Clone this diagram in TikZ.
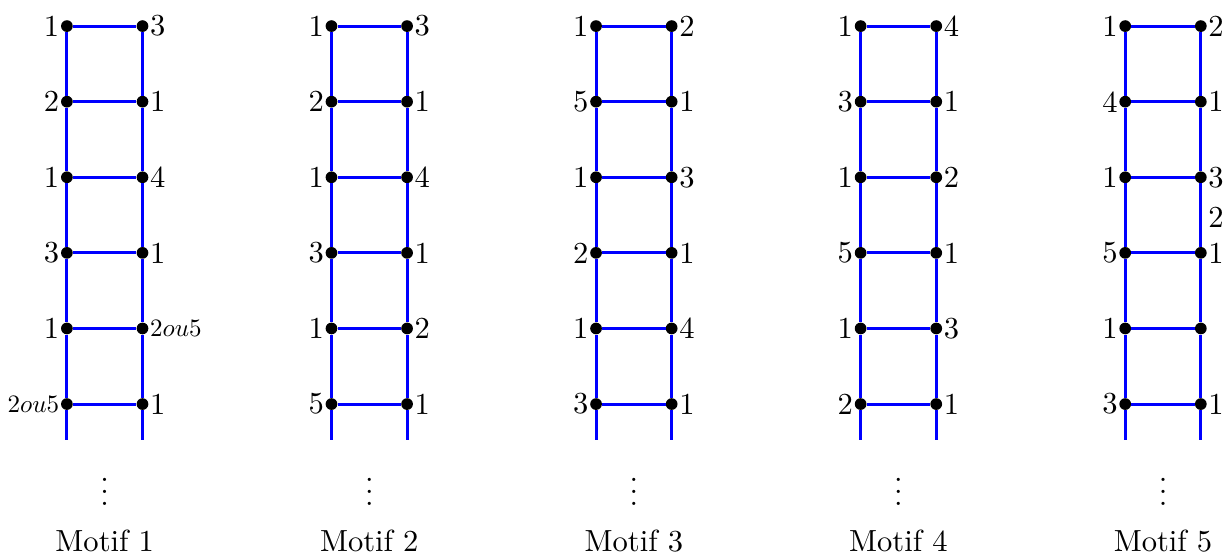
\documentclass[tikz,border=0pt]{standalone}
\usetikzlibrary{positioning}
\tikzset{
  dot/.style={circle,fill=black,inner sep=0pt,minimum size=0.31cm},
  rail/.style={blue,line width=2.3pt},
  lab/.style={inner sep=0.3pt,scale=2.3},
  title/.style={scale=2.3}
}
\newcommand{\sm}[1]{\scalebox{0.82}{#1}}
\newcommand{\ladder}[3]{% #1 index, #2 x, #3 rows r/left/right
  \foreach \r/\a/\b in {#3} {
    \node[dot,label={[lab,anchor=east,name=L#1\r lab]left:\a}] (L#1\r) at (#2,{-2*(\r-1)}) {};
    \node[dot,label={[lab,anchor=west,name=R#1\r lab]right:\b}] (R#1\r) at ({#2+2},{-2*(\r-1)}) {};
  }
  \coordinate (BL#1) at (#2,-10.95);
  \coordinate (BR#1) at ({#2+2},-10.95);
  \foreach \r in {1,...,6} { \draw[rail] (L#1\r) -- (R#1\r); }
  \foreach \r [evaluate=\r as \n using int(\r+1)] in {1,...,5} {
    \draw[rail] (L#1\r) -- (L#1\n);
    \draw[rail] (R#1\r) -- (R#1\n);
  }
  \draw[rail] (L#16) -- (BL#1);
  \draw[rail] (R#16) -- (BR#1);
  \node[title] (V#1) at ({#2+1},-12.08) {$\vdots$};
  \node[title] (T#1) at ({#2+1},-13.62) {Motif #1};
}
\begin{document}
\begin{tikzpicture}
\useasboundingbox (-1.77,0.69) rectangle (30.64,-14.02);
\ladder{1}{0}{1/1/3,2/2/1,3/1/4,4/3/1,5/1/{\sm{$2ou5$}},6/{\sm{$2ou5$}}/1}
\ladder{2}{7}{1/1/3,2/2/1,3/1/4,4/3/1,5/1/2,6/5/1}
\ladder{3}{14}{1/1/2,2/5/1,3/1/3,4/2/1,5/1/4,6/3/1}
\ladder{4}{21}{1/1/4,2/3/1,3/1/2,4/5/1,5/1/3,6/2/1}
\ladder{5}{28}{1/1/2,2/4/1,3/1/3,4/5/1,5/1/{},6/3/1}
\node[lab,above=0.32cm of R54lab] (extra) {2};
\end{tikzpicture}
\end{document}
